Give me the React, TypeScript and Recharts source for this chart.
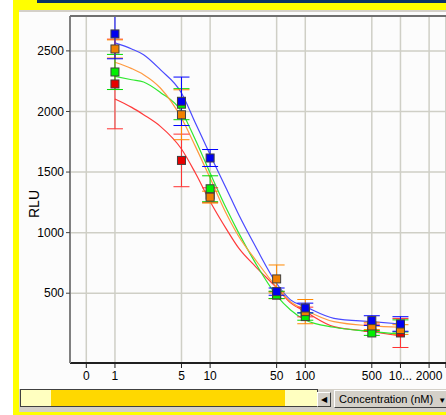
import React from "react";
import {
  CartesianGrid,
  ComposedChart,
  ErrorBar,
  Line,
  Scatter,
  XAxis,
  YAxis,
} from "recharts";

// measured concentrations (nM)
const conc = [1, 5, 10, 50, 100, 500, 1000];

const blueMean = [2640, 2084, 1616, 513, 378, 274, 246];
const blueErr = [205, 200, 70, 30, 40, 40, 60];
const orangeMean = [2516, 1973, 1293, 618, 348, 230, 200];
const orangeErr = [75, 206, 49, 115, 100, 30, 40];
const greenMean = [2326, 2060, 1362, 486, 307, 172, 230];
const greenErr = [145, 128, 107, 30, 30, 20, 50];
const redMean = [2227, 1596, 1310, 485, 345, 215, 172];
const redErr = [370, 217, 60, 30, 40, 30, 120];

// fitted curves
const curveX = [1, 1.5, 2, 3, 5, 7, 10, 15, 20, 30, 50, 70, 100, 200, 500, 1000];
const blueFit = [2566, 2516, 2469, 2345, 2153, 1905, 1643, 1354, 1147, 885, 580, 445, 389, 293, 265, 246];
const orangeFit = [2406, 2354, 2304, 2194, 1946, 1712, 1450, 1147, 968, 775, 550, 430, 362, 265, 230, 219];
const greenFit = [2290, 2262, 2243, 2157, 2000, 1767, 1492, 1190, 996, 748, 480, 362, 279, 219, 183, 164];
const redFit = [2103, 2034, 1973, 1877, 1690, 1492, 1257, 1023, 872, 720, 545, 420, 348, 224, 183, 147];

const xTicks = [0.5, 1, 5, 10, 50, 100, 500, 1000, 2000, 3000];
const xTickLabels = ["0", "1", "5", "10", "50", "100", "500", "10...", "2000", ""];
const yTicks = [500, 1000, 1500, 2000, 2500];

const FONT = "'Liberation Sans', Arial, sans-serif";

const curveRows = curveX.map((x, i) => ({
  x,
  blue: blueFit[i],
  orange: orangeFit[i],
  green: greenFit[i],
  red: redFit[i],
}));

const points = (mean: number[], err: number[]) =>
  conc.map((x, i) => ({ x, y: mean[i], err: err[i] }));

const series = [
  { key: "red", mean: redMean, err: redErr, line: "#ff3a3a", fill: "#e80000", bar: "#ff3030" },
  { key: "green", mean: greenMean, err: greenErr, line: "#30e830", fill: "#00f000", bar: "#00d800" },
  { key: "orange", mean: orangeMean, err: orangeErr, line: "#ff9a40", fill: "#f08000", bar: "#ff8800" },
  { key: "blue", mean: blueMean, err: blueErr, line: "#4a4aff", fill: "#0000f0", bar: "#0000ff" },
];

const square = (fill: string) => (props: any) => (
  <rect
    x={props.cx - 4}
    y={props.cy - 4}
    width={8}
    height={8}
    fill={fill}
    stroke="#404040"
    strokeWidth={1}
  />
);

const box = (s: React.CSSProperties): React.CSSProperties => ({
  position: "absolute",
  ...s,
});

export default function App() {
  return (
    <div
      style={{
        position: "absolute",
        left: 0,
        top: 0,
        width: 446,
        height: 415,
        overflow: "hidden",
        background: "#ffffff",
        fontFamily: FONT,
      }}
    >
      <div style={box({ left: 19, top: 12, width: 427, height: 377, background: "#fcfcfc" })} />

      <div style={box({ left: 0, top: 0 })}>
        <ComposedChart
          width={446}
          height={415}
          margin={{ top: 16, right: 0, left: 0, bottom: 0 }}
        >
          <CartesianGrid stroke="#cfcfc6" strokeWidth={1.5} />
          <XAxis
            dataKey="x"
            type="number"
            scale="log"
            domain={[0.337, 3010]}
            allowDataOverflow
            ticks={xTicks}
            interval={0}
            height={52}
            tickFormatter={(v: number) => xTickLabels[xTicks.indexOf(v)] ?? ""}
            tick={{ fill: "#000", fontSize: 12, fontFamily: FONT }}
            tickSize={5}
            tickMargin={3}
            axisLine={{ stroke: "#202020", strokeWidth: 2 }}
            tickLine={{ stroke: "#202020" }}
          />
          <YAxis
            type="number"
            domain={[-76, 2788]}
            allowDataOverflow
            ticks={yTicks}
            interval={0}
            width={70}
            tick={{ fill: "#000", fontSize: 12, fontFamily: FONT }}
            tickSize={4}
            tickMargin={2}
            axisLine={{ stroke: "#808080", strokeWidth: 2 }}
            tickLine={{ stroke: "#404040" }}
          />
          {series.map((s) => (
            <Line
              key={"fit-" + s.key}
              data={curveRows}
              dataKey={s.key}
              type="monotone"
              stroke={s.line}
              strokeWidth={1.2}
              dot={false}
              activeDot={false}
              isAnimationActive={false}
            />
          ))}
          {series.map((s) => (
            <Scatter
              key={"pts-" + s.key}
              data={points(s.mean, s.err)}
              dataKey="y"
              shape={square(s.fill)}
              isAnimationActive={false}
            >
              <ErrorBar
                dataKey="err"
                direction="y"
                width={8}
                stroke={s.bar}
                strokeWidth={1}
                isAnimationActive={false}
              />
            </Scatter>
          ))}
        </ComposedChart>
      </div>

      {/* hide anything drawn above the plot frame */}
      <div style={box({ left: 19, top: 12, width: 427, height: 4, background: "#fcfcfc" })} />
      <div style={box({ left: 70, top: 15, width: 376, height: 2, background: "#707070" })} />

      {/* window chrome */}
      <div style={box({ left: 13, top: 0, width: 433, height: 10, background: "#ffff00" })} />
      <div style={box({ left: 37, top: 0, width: 409, height: 3, background: "#0c3466" })} />
      <div style={box({ left: 13, top: 0, width: 6, height: 415, background: "#ffff00" })} />
      <div style={box({ left: 13, top: 412, width: 433, height: 3, background: "#ffff00" })} />
      <div style={box({ left: 19, top: 10, width: 427, height: 2, background: "#d4d0c8" })} />
      <div style={box({ left: 19, top: 389, width: 427, height: 23, background: "#d4d0c8" })} />

      {/* scroll bar */}
      <div
        style={box({
          left: 20,
          top: 389,
          width: 296,
          height: 16,
          border: "1px solid #404040",
          background: "#ffffc0",
        })}
      />
      <div style={box({ left: 51, top: 390, width: 234, height: 16, background: "#ffd800" })} />
      <div
        style={box({
          left: 317,
          top: 392,
          width: 12,
          height: 13,
          background: "#d4d0c8",
          borderTop: "1px solid #ffffff",
          borderLeft: "1px solid #ffffff",
          borderRight: "1px solid #404040",
          borderBottom: "1px solid #404040",
          fontSize: 8,
          lineHeight: "13px",
          textAlign: "center",
          color: "#000",
        })}
      >
        ◀
      </div>
      <div
        style={box({
          left: 334,
          top: 390,
          width: 112,
          height: 18,
          background: "#d4d0c8",
          borderTop: "1px solid #ffffff",
          borderLeft: "1px solid #ffffff",
          borderBottom: "1px solid #404040",
          fontSize: 11,
          lineHeight: "17px",
          color: "#000",
          paddingLeft: 4,
          boxSizing: "border-box",
          whiteSpace: "nowrap",
        })}
      >
        Concentration (nM)<span style={{ fontSize: 8, marginLeft: 5 }}>▼</span>
      </div>

      <div
        style={box({
          left: 34,
          top: 204,
          transform: "translate(-50%, -50%) rotate(-90deg)",
          fontSize: 14,
          color: "#000",
          whiteSpace: "nowrap",
        })}
      >
        RLU
      </div>
    </div>
  );
}
